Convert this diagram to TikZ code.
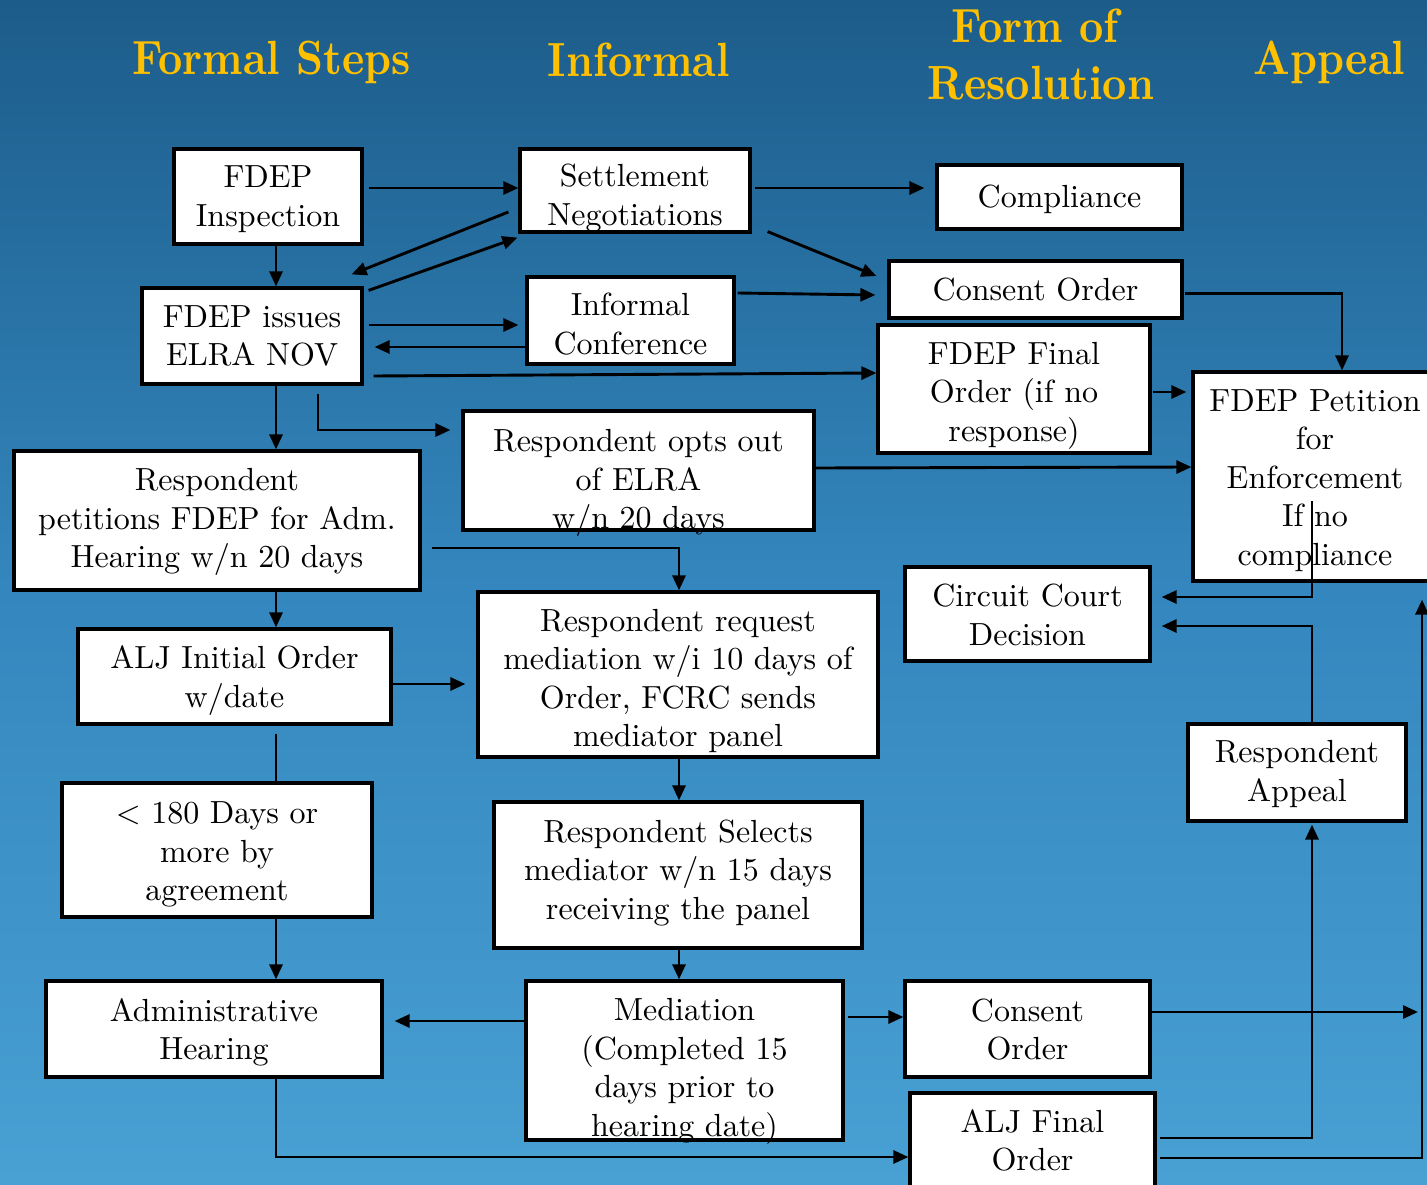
\documentclass[tikz,border=0pt]{standalone}
\usepackage{fontspec}
\newfontfamily\boxfont{lmroman10-regular}[Extension=.otf]
\newfontfamily\hdrfont{lmroman10-bold}[Extension=.otf]
\usetikzlibrary{arrows.meta,calc}
\definecolor{bgtop}{RGB}{28,92,138}
\definecolor{bgmid}{RGB}{52,135,190}
\definecolor{bgbot}{RGB}{72,160,211}
\definecolor{gold}{RGB}{255,192,0}
\newcommand{\tx}[2]{\raisebox{\dimexpr #1-3pt\relax}[\height][\depth]{\begin{tabular}{@{}c@{}}#2\end{tabular}}}
\newcommand{\hscale}[1]{\scalebox{0.88}[1]{#1}}
\begin{document}
\begin{tikzpicture}[x=1pt,y=-1pt,
  box/.style={draw=black,fill=white,line width=3.2pt,inner sep=0pt,font=\boxfont\fontsize{32}{38.5}\selectfont},
  hdr/.style={text=gold,font=\hdrfont\fontsize{48}{50}\selectfont,anchor=base,inner sep=0pt},
  arr/.style={line width=2.9pt,-{Triangle[length=15pt,width=13pt]}},
  ln/.style={line width=2.9pt}]
\useasboundingbox (0,0) rectangle (1427,1185);
\clip (0,0) rectangle (1427,1185);
\shade[top color=bgtop,bottom color=bgbot,middle color=bgmid] (0,0) rectangle (1427,1185);

% headers
\node[hdr] (h1) at (271.5,75) {\hscale{Formal Steps}};
\node[hdr] (h2) at (639,77) {\hscale{Informal}};
\node[hdr] (h3a) at (1035,43) {\hscale{Form of}};
\node[hdr] (h3b) at (1041,100) {\hscale{Resolution}};
\node[hdr] (h4) at (1329.5,75) {\hscale{Appeal}};

% boxes
\node[box,minimum width=188,minimum height=95] (insp) at (268,196.5) {\tx{0pt}{FDEP\\Inspection}};
\node[box,minimum width=230,minimum height=83] (settle) at (635,190.5) {\tx{-5pt}{Settlement\\Negotiations}};
\node[box,minimum width=245,minimum height=64] (compl) at (1059.5,197) {\tx{0pt}{Compliance}};
\node[box,minimum width=220,minimum height=96] (nov) at (252,336) {\tx{0pt}{FDEP issues\\ELRA NOV}};
\node[box,minimum width=207,minimum height=87] (infc) at (630.5,320.5) {\tx{-4pt}{Informal\\Conference}};
\node[box,minimum width=293,minimum height=57] (cons1) at (1035.5,289.5) {\tx{0pt}{Consent Order}};
\node[box,minimum width=272,minimum height=128] (ffinal) at (1014,389) {\tx{-3pt}{FDEP Final\\Order (if no\\response)}};
\node[box,minimum width=244,minimum height=209] (petit) at (1315,476.5) {\tx{-1pt}{FDEP Petition\\for\\Enforcement\\If no\\compliance}};
\node[box,minimum width=351,minimum height=119] (optout) at (638.5,470.5) {\tx{-9pt}{Respondent opts out\\of ELRA\\w/n 20 days}};
\node[box,minimum width=406,minimum height=139] (respet) at (217,520.5) {\tx{2pt}{Respondent\\petitions FDEP for Adm.\\Hearing w/n 20 days}};
\node[box,minimum width=245,minimum height=94] (circ) at (1027.5,614) {\tx{-1.5pt}{Circuit Court\\Decision}};
\node[box,minimum width=313,minimum height=95] (aljinit) at (234.5,676.5) {\tx{-1pt}{ALJ Initial Order\\w/date}};
\node[box,minimum width=400,minimum height=165] (reqmed) at (678,674.5) {\tx{-4pt}{Respondent request\\mediation w/i 10 days of\\Order, FCRC sends\\mediator panel}};
\node[box,minimum width=218,minimum height=97] (rapp) at (1297,772.5) {\tx{1pt}{Respondent\\Appeal}};
\node[box,minimum width=310,minimum height=134] (d180) at (217,850) {\tx{-1.5pt}{< 180 Days or\\more by\\agreement}};
\node[box,minimum width=368,minimum height=146] (selects) at (678,875) {\tx{5pt}{Respondent Selects\\mediator w/n 15 days\\receiving the panel}};
\node[box,minimum width=336,minimum height=96] (admin) at (214,1029) {\tx{-1pt}{Administrative\\Hearing}};
\node[box,minimum width=317,minimum height=159] (med) at (684.5,1060.5) {\tx{-7.5pt}{Mediation\\(Completed 15\\days prior to\\hearing date)}};
\node[box,minimum width=245,minimum height=96] (cons2) at (1027.5,1029) {\tx{-1pt}{Consent\\Order}};
\node[box,minimum width=245,minimum height=96] (aljfin) at (1032.5,1141) {\tx{0pt}{ALJ Final\\Order}};

\coordinate (edgeR) at (1418,1012);

% connectors
\draw[arr] ($(insp.east)+(5,-8.5)$) -- ($(settle.west)+(0,-2.5)$);
\draw[arr] ($(settle.east)+(3,-2.5)$) -- ($(compl.west)+(-11,-9)$);
\draw[arr] ($(insp.south)+(8,0)$) -- ($(nov.north)+(24,0)$);
\draw[arr] ($(settle.west)+(-10,21.5)$) -- ($(nov.north east)+(-12,-12)$);
\draw[arr] ($(nov.north east)+(5,4)$) -- ($(settle.south west)+(-1,4)$);
\draw[arr] ($(settle.south east)+(16,-2)$) -- ($(cons1.west)+(-11,-13.5)$);
\draw[arr] ($(nov.east)+(5,-11)$) -- ($(infc.west)+(-7,4.5)$);
\draw[arr] ($(infc.west)+(0,26.5)$) -- ($(nov.east)+(11,11)$);
\draw[arr] ($(infc.east)+(2,-27.5)$) -- ($(cons1.west)+(-12,5.5)$);
\draw[arr] ($(nov.east)+(10,40)$) -- ($(ffinal.west)+(0,-16)$);
\draw[arr] ($(cons1.east)+(1,4)$) -| ($(petit.north)+(27,0)$);
\draw[arr] ($(ffinal.east)+(1,3)$) -- ($(petit.west)+(-5,-84.5)$);
\draw[arr] ($(optout.east)+(0,-2.5)$) -- ($(petit.west)+(0,-9.5)$);
\draw[arr] ($(nov.south)+(66,8)$) |- ($(optout.west)+(-11,-40.5)$);
\draw[arr] ($(nov.south)+(24,0)$) -- ($(respet.north)+(59,0)$);
\draw[arr] ($(respet.east)+(10,27.5)$) -| ($(reqmed.north)+(1,0)$);
\draw[arr] ($(respet.south)+(59,0)$) -- ($(aljinit.north)+(41.5,0)$);
\draw[arr] ($(aljinit.east)+(0,7.5)$) -- ($(reqmed.west)+(-11,9.5)$);
\draw[ln] ($(aljinit.south)+(41.5,8)$) -- ($(d180.north)+(59,0)$);
\draw[arr] ($(d180.south)+(59,0)$) -- ($(admin.north)+(62,0)$);
\draw[arr] ($(reqmed.south)+(1,0)$) -- ($(selects.north)+(1,0)$);
\draw[arr] ($(selects.south)+(1,0)$) -- ($(med.north)+(-5.5,0)$);
\draw[arr] ($(med.west)+(0,-39.5)$) -- ($(admin.east)+(11,-8)$);
\draw[arr] ($(med.east)+(3,-43.5)$) -- ($(cons2.west)+(0,-12)$);
\draw[arr] ($(admin.south)+(62,0)$) |- ($(aljfin.west)+(0,16)$);
\draw[arr] ($(cons2.east)+(0,-17)$) -- (edgeR);
\draw[arr] ($(aljfin.east)+(3,-3)$) -| ($(rapp.south)+(15,2)$);
\draw[arr] ($(aljfin.east)+(3,17)$) -| ($(petit.south)+(107,17)$);
\draw[arr] ($(petit.center)+(-3,24.5)$) |- ($(circ.east)+(10,-17)$);
\draw[arr] ($(rapp.north)+(15,0)$) |- ($(circ.east)+(10,12)$);
\end{tikzpicture}
\end{document}
